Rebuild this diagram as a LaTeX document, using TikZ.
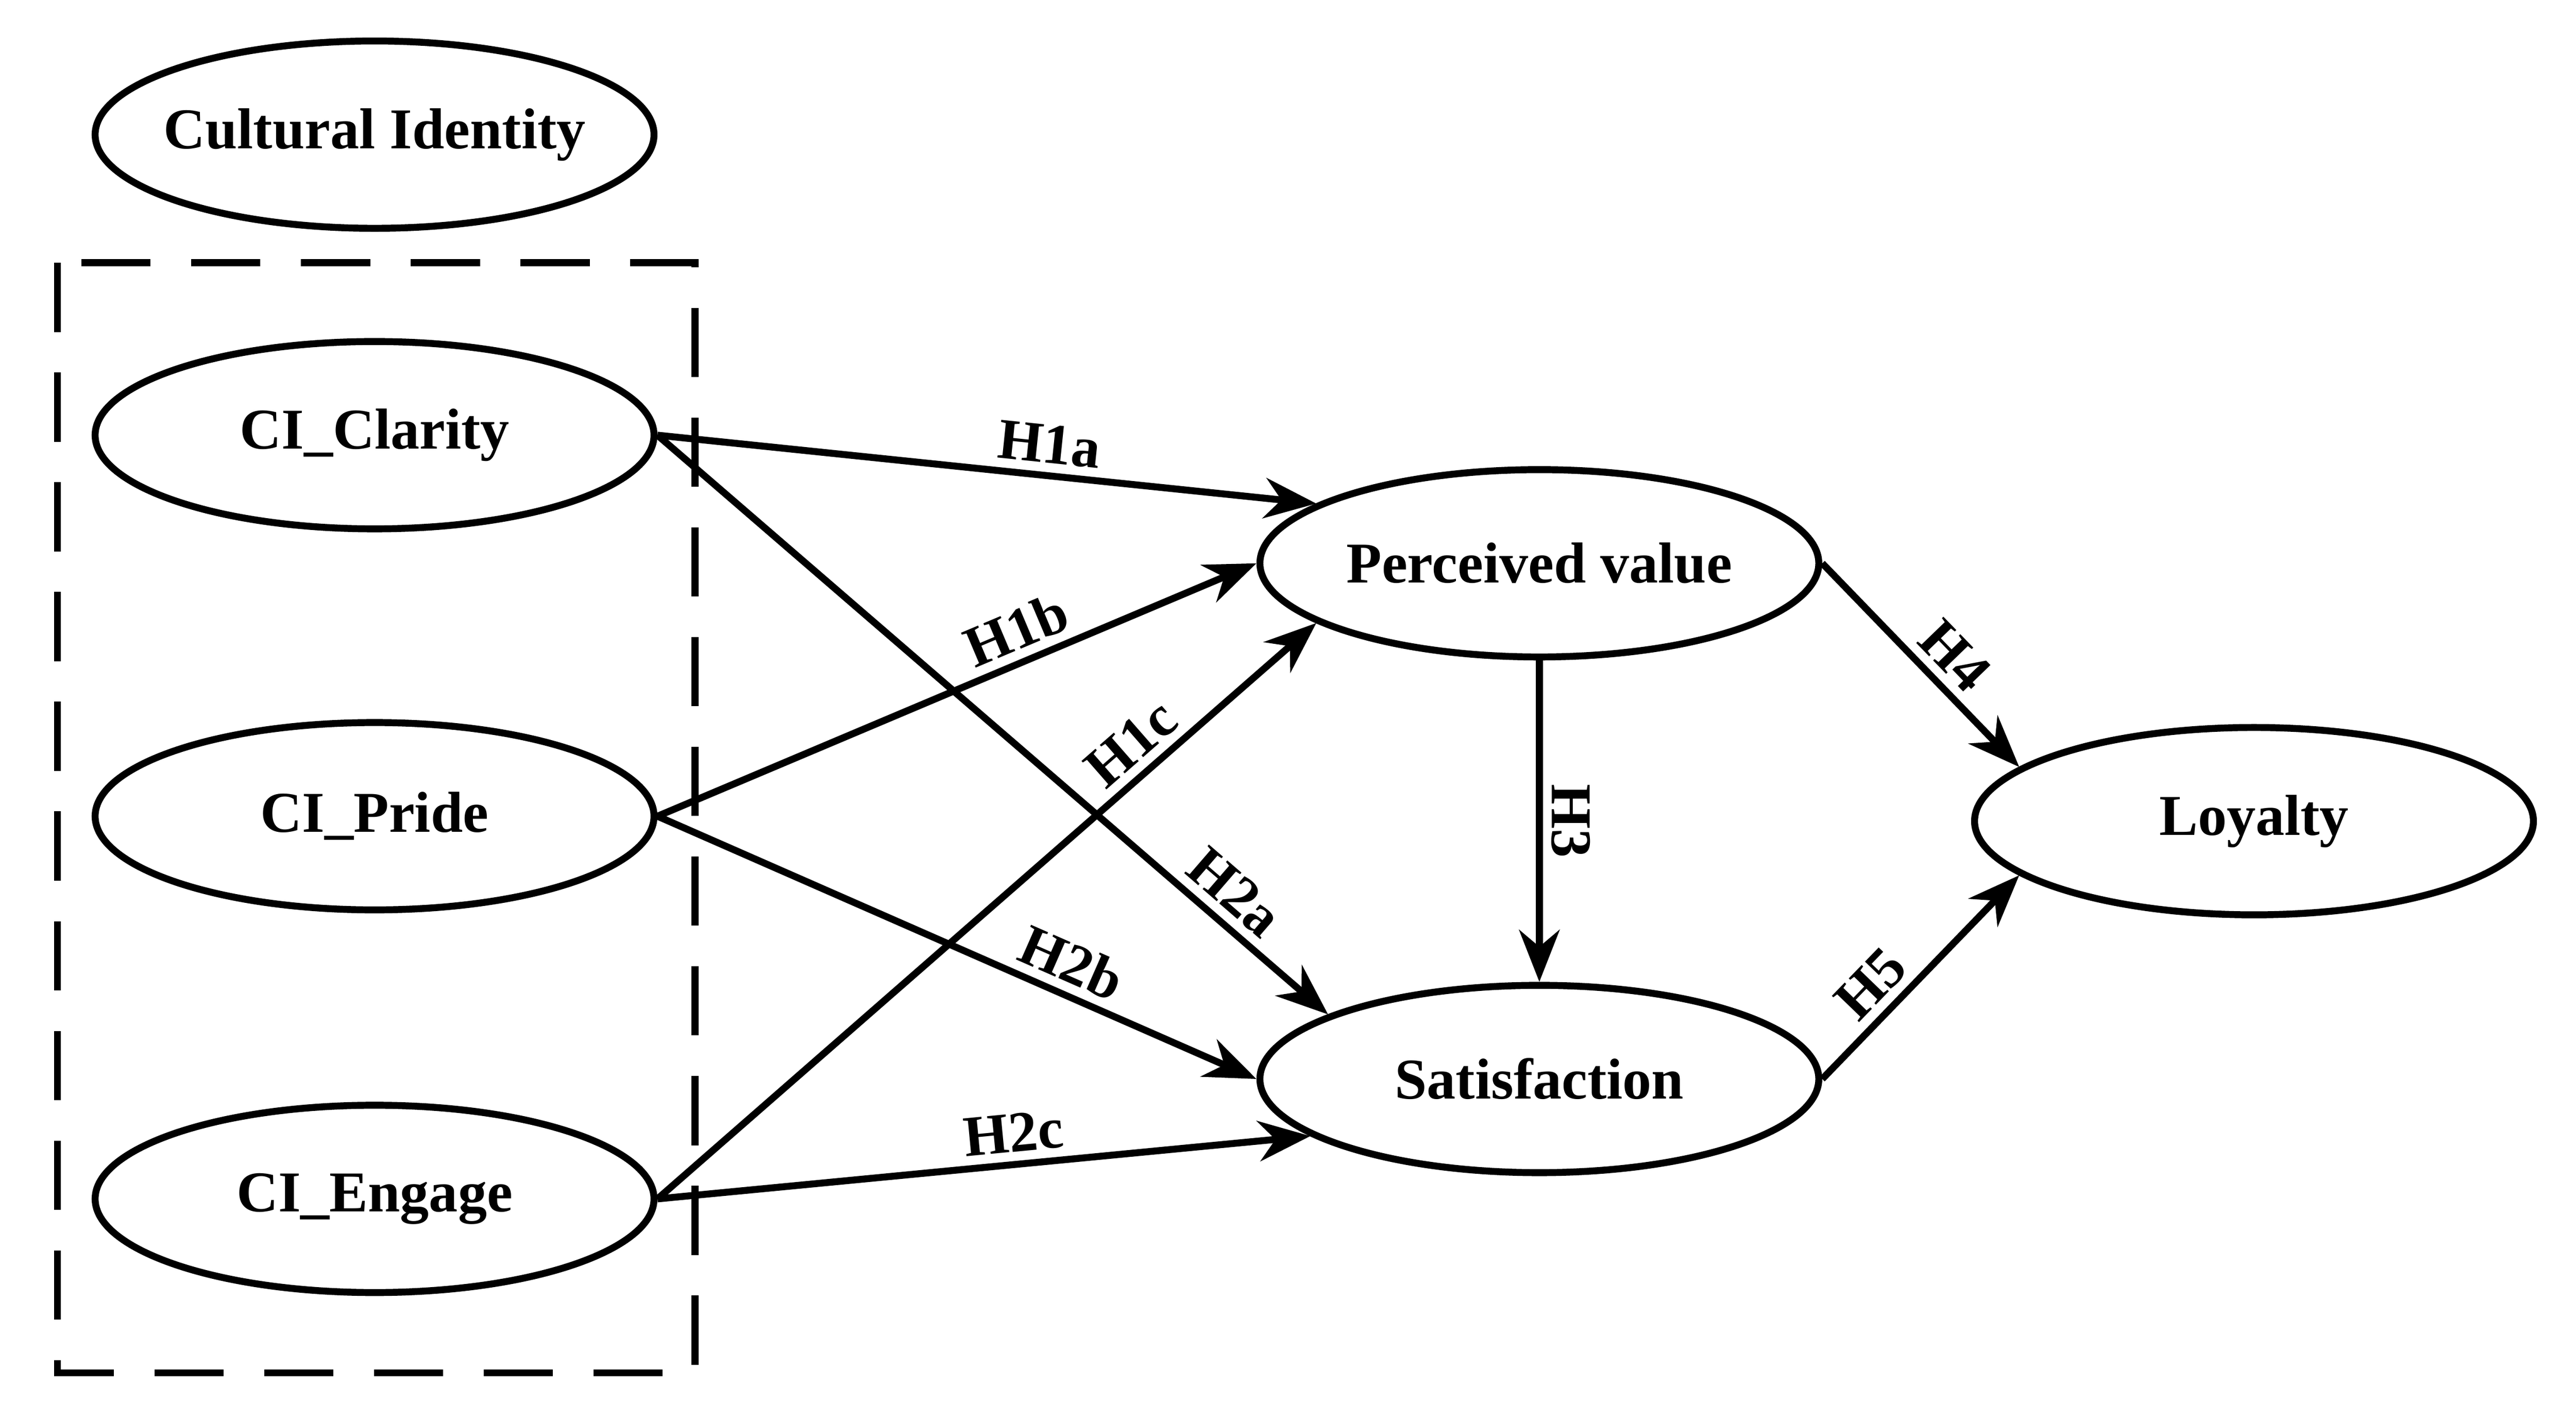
\documentclass[tikz,border=0pt]{standalone}
\usepackage{fontspec}
\setmainfont{Liberation Serif}
\usetikzlibrary{shapes.geometric,arrows.meta}
\begin{document}
\begin{tikzpicture}[x=0.01cm,y=-0.01cm,
  lat/.style={ellipse,draw,line width=1.2pt,minimum width=3.4cm,minimum height=1.14cm,inner sep=-4pt,font=\bfseries\fontsize{10}{12}\selectfont},
  arr/.style={line width=1.2pt,-{Stealth[length=9pt,width=7pt]}},
  lab/.style={font=\bfseries\fontsize{10}{12}\selectfont,sloped,above,inner sep=1.5pt}]
\useasboundingbox (0,0) rectangle (1568,865);
\node[lat] (ci) at (228,82) {Cultural Identity};
\draw[line width=1.2pt,dash pattern=on 12pt off 7pt] (35,160) rectangle (423,836);
\node[lat] (cl) at (228,265) {CI\_Clarity};
\node[lat] (pr) at (228,497) {CI\_Pride};
\node[lat] (en) at (228,730) {CI\_Engage};
\node[lat] (pv) at (937,343) {Perceived value};
\node[lat] (sa) at (937,657) {Satisfaction};
\node[lat] (lo) at (1372,500) {Loyalty};
\draw[arr] (cl.east) -- node[lab,pos=0.59]{H1a} (pv.165);
\draw[arr] (cl.east) -- node[lab,pos=0.83]{H2a} (sa.163);
\draw[arr] (pr.east) -- node[lab,pos=0.62]{H1b} (pv.west);
\draw[arr] (pr.east) -- node[lab,pos=0.67]{H2b} (sa.west);
\draw[arr] (en.east) -- node[lab,pos=0.75]{H1c} (pv.195);
\draw[arr] (en.east) -- node[lab,pos=0.55]{H2c} (sa.194);
\draw[arr] (pv.south) -- node[lab,pos=0.5]{H3} (sa.north);
\draw[arr] (pv.east) -- node[lab,pos=0.56]{H4} (lo.167);
\draw[arr] (sa.east) -- node[lab,pos=0.36]{H5} (lo.193);
\end{tikzpicture}
\end{document}
